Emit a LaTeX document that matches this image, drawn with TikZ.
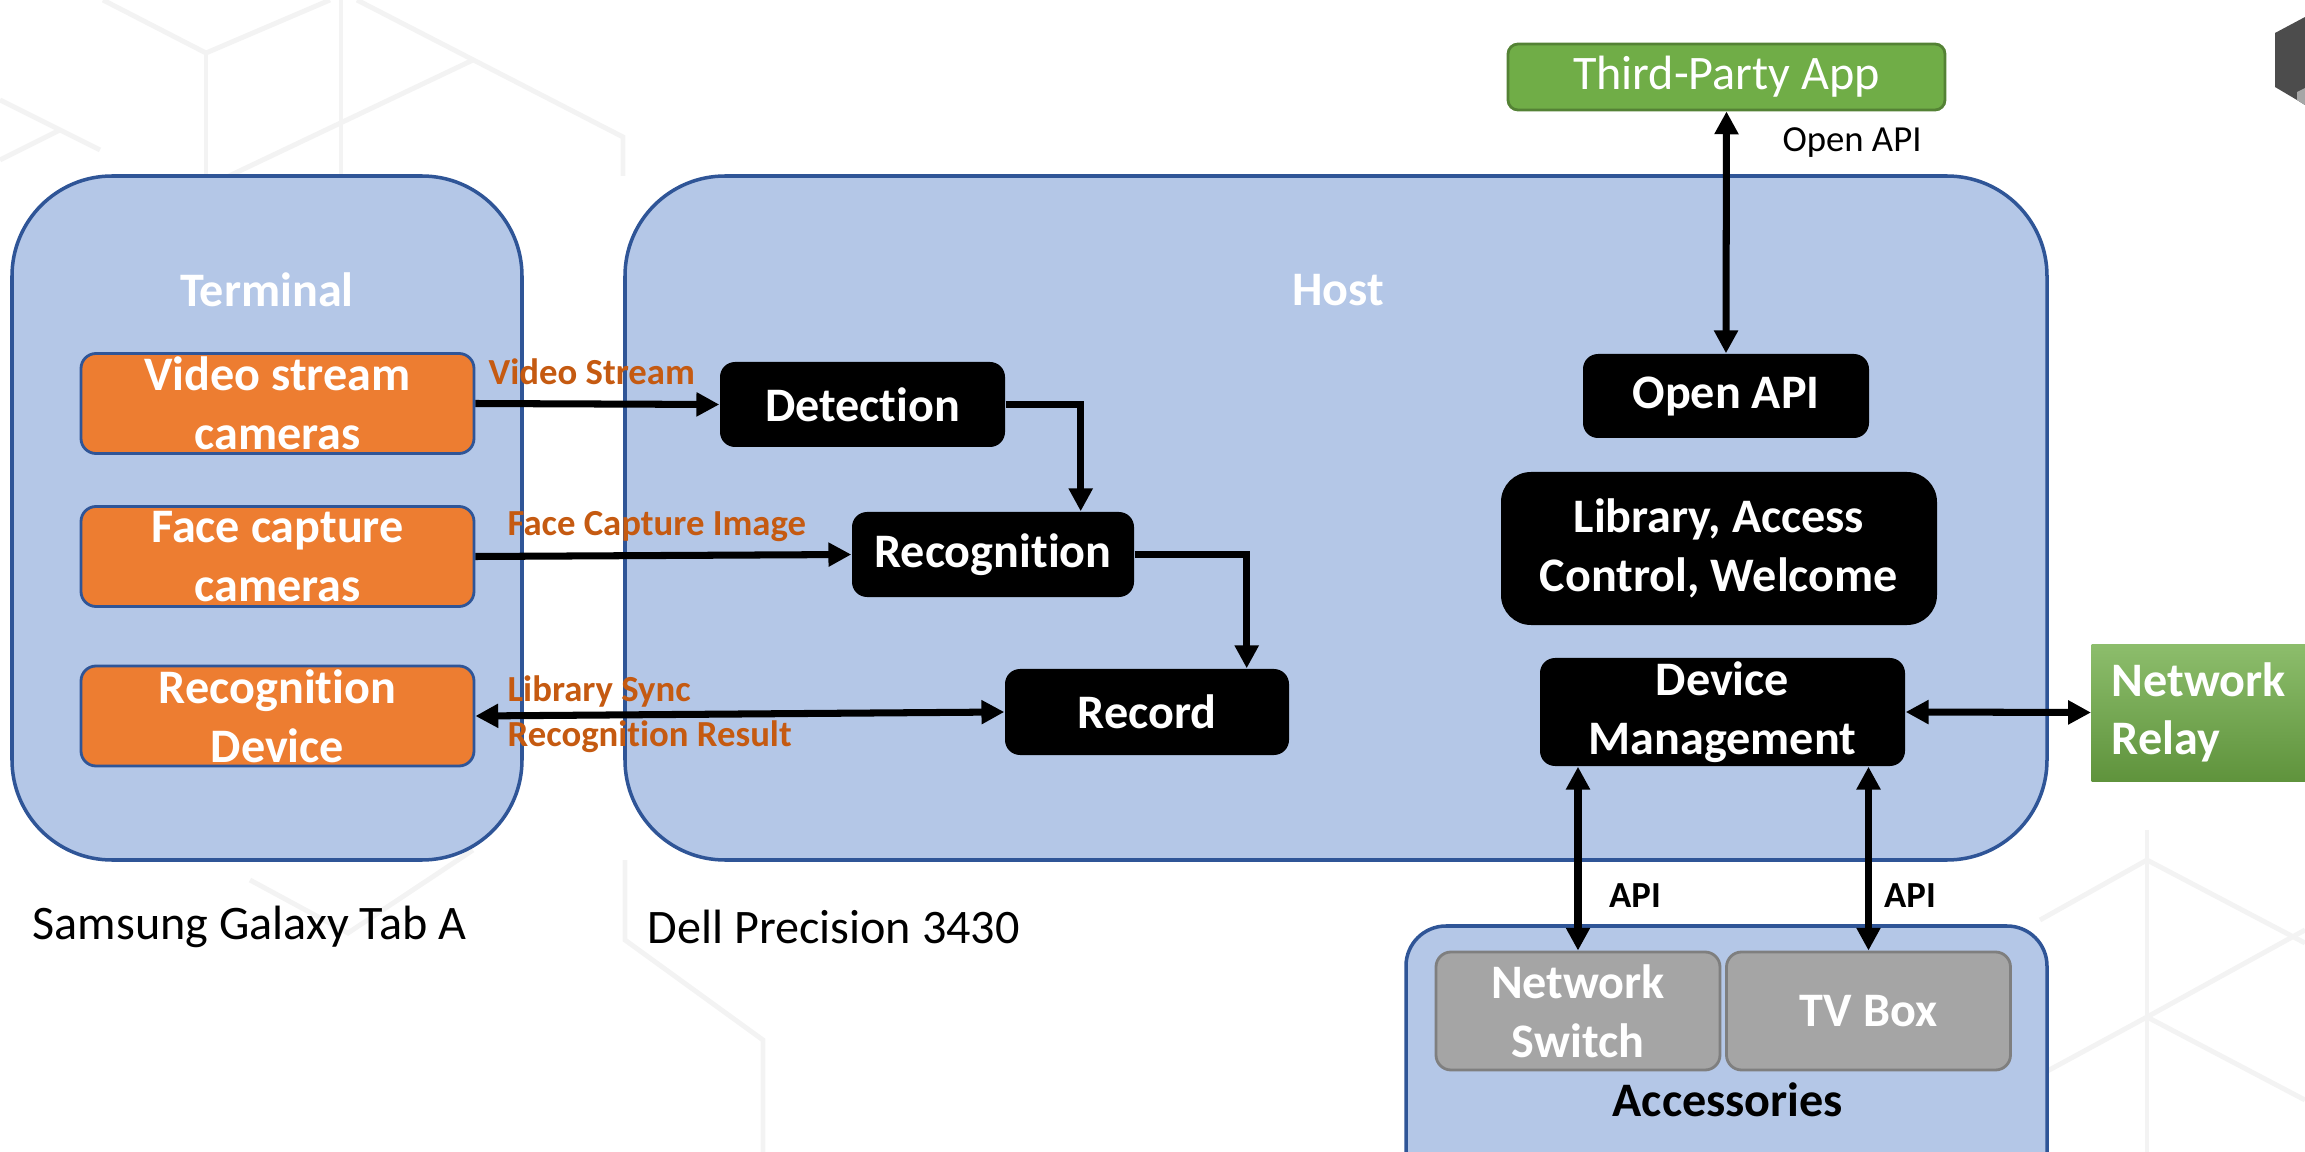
\documentclass[tikz,border=0pt]{standalone}
\usepackage{fontspec}
\setmainfont{Carlito}[Ligatures=NoCommon]
\usetikzlibrary{arrows.meta}

\definecolor{boxblue}{HTML}{B4C7E7}
\definecolor{lineblue}{HTML}{2F5597}
\definecolor{camorange}{HTML}{ED7D31}
\definecolor{labelorange}{HTML}{C55A11}
\definecolor{appgreen}{HTML}{70AD47}
\definecolor{appgreenline}{HTML}{548235}
\definecolor{accgray}{HTML}{A5A5A5}
\definecolor{accgrayline}{HTML}{7F7F7F}
\definecolor{patterngray}{HTML}{F3F3F3}

\newcommand{\bigfont}{\fontsize{13.7}{16.7}\selectfont}
\newcommand{\smallfont}{\fontsize{10.45}{12.7}\selectfont}

\begin{document}
\begin{tikzpicture}[>={Triangle[length=6.5pt,width=6.5pt]}]
        \tikzstyle{group box}=[rectangle, rounded corners=1cm, fill=boxblue, draw=lineblue, line width=1pt]
        \tikzstyle{camera}=[rectangle, rounded corners=0.15cm, fill=camorange, draw=lineblue, line width=0.8pt,
            text=white, font=\bigfont\bfseries, align=center, minimum width=3.93cm, minimum height=1cm, inner sep=0pt]
        \tikzstyle{module}=[rectangle, rounded corners=0.15cm, fill=black, text=white, font=\bigfont\bfseries,
            align=center, inner sep=0pt]
        \tikzstyle{accessory}=[rectangle, rounded corners=0.15cm, fill=accgray, draw=accgrayline, line width=0.8pt,
            text=white, font=\bigfont\bfseries, align=center, minimum width=2.84cm, minimum height=1.18cm, inner sep=0pt]
        \tikzstyle{title}=[text=white, font=\bigfont\bfseries]
        \tikzstyle{flow label}=[anchor=west, inner sep=0pt, text=labelorange, font=\smallfont\bfseries]
        \tikzstyle{api label}=[inner sep=0pt, font=\smallfont\bfseries]
        \tikzstyle{link}=[line width=2pt]

        \clip (0,0) rectangle (23.05,-11.52);

        % Faint cube lines in the background
        \begin{scope}[draw=patterngray, line width=1.4pt]
            \draw (1.03,0) -- (2.06,-0.53) -- (3.30,0);
            \draw (2.06,-0.53) -- (2.06,-1.76);
            \draw (3.41,0) -- (3.41,-1.76);
            \draw (3.57,0) -- (6.23,-1.37) -- (6.23,-1.76);
            \draw (4.73,-0.60) -- (2.29,-1.76);
            \draw (0,-1.00) -- (1.00,-1.50);
            \draw (0,-1.60) -- (0.60,-1.30);
            \draw (2.50,-8.80) -- (3.48,-9.33) -- (4.73,-8.50);
            \draw (6.25,-8.60) -- (6.25,-9.40) -- (7.63,-10.40) -- (7.63,-11.52);
            \draw (21.47,-8.30) -- (21.47,-11.52);
            \draw (20.40,-9.20) -- (21.47,-8.60) -- (23.05,-9.43);
            \draw (20.40,-10.75) -- (21.47,-10.17) -- (23.05,-9.30);
            \draw (21.47,-10.17) -- (23.05,-11.00);
        \end{scope}

        % Device picture cut by the right edge
        \fill[black!70] (22.75,-0.33) -- (23.05,-0.17) -- (23.05,-1.05) -- (22.97,-1.00) -- (22.75,-0.87) -- cycle;
        \fill[black!35] (22.97,-0.92) -- (23.05,-0.88) -- (23.05,-1.05) -- (22.97,-1.00) -- cycle;

        % Draw the three group boxes
        \node[group box, minimum width=5.10cm, minimum height=6.84cm] (terminal) at (2.67,-5.18) {};
        \node[group box, minimum width=14.22cm, minimum height=6.84cm] (host) at (13.36,-5.18) {};
        \node[group box, rounded corners=0.4cm, minimum width=6.41cm, minimum height=2.74cm] (acc) at (17.265,-10.63) {};

        \node[title] at (2.67,-2.90) {Terminal};
        \node[title] at (13.38,-2.90) {Host};

        % Draw the terminal cameras
        \node[camera] (vscam) at (2.775,-4.035) {Video stream\\cameras};
        \node[camera] (fccam) at (2.775,-5.565) {Face capture\\cameras};
        \node[camera] (recdev) at (2.775,-7.16) {Recognition\\Device};

        % Draw the host modules
        \node[module, minimum width=2.85cm, minimum height=0.85cm] (detection) at (8.625,-4.045) {Detection};
        \node[module, minimum width=2.82cm, minimum height=0.85cm] (recognition) at (9.93,-5.545) {Recognition};
        \node[module, minimum width=2.84cm, minimum height=0.86cm] (record) at (11.47,-7.12) {Record};
        \node[module, minimum width=2.86cm, minimum height=0.84cm] (openapi) at (17.26,-3.96) {Open API};
        \node[module, rounded corners=0.3cm, minimum width=4.36cm, minimum height=1.53cm] (library) at (17.19,-5.485) {Library, Access\\Control, Welcome};
        \node[module, minimum width=3.65cm, minimum height=1.08cm] (devmgmt) at (17.225,-7.12) {Device\\Management};

        % Draw the outside parts
        \node[rectangle, rounded corners=0.1cm, fill=appgreen, draw=appgreenline, line width=0.8pt, text=white,
            font=\bigfont, minimum width=4.37cm, minimum height=0.66cm, inner sep=0pt] (thirdparty) at (17.265,-0.77) {Third-Party App};
        \node[rectangle, anchor=west, top color=appgreen!80!white, bottom color=appgreen!85!black, text=white,
            font=\bigfont\bfseries, align=left, text width=2.0cm, inner xsep=0.2cm, minimum height=1.37cm] (relay) at (20.91,-7.125) {Network\\Relay};

        \node[accessory] (nswitch) at (15.78,-10.11) {Network\\Switch};
        \node[accessory] (tvbox) at (18.685,-10.11) {TV Box};
        \node[font=\bigfont\bfseries] at (17.28,-11.00) {Accessories};

        % Connect the cameras with the host
        \draw[link, ->] (vscam.east) -- (detection.west);
        \draw[link, ->] (fccam.east) -- (recognition.west);
        \draw[link, <->] (recdev.east) -- (record.west);
        \draw[link, ->] (detection.east) -| ([xshift=-0.54cm]recognition.north east);
        \draw[link, ->] (recognition.east) -| ([xshift=-0.43cm]record.north east);

        % Connect the device management and the open API
        \draw[link, <->] (openapi.north) -- (thirdparty.south);
        \draw[link, <->] (devmgmt.east) -- (relay.west);
        \draw[link, <->] (devmgmt.south -| nswitch.north) -- (nswitch.north);
        \draw[link, <->] (devmgmt.south -| tvbox.north) -- (tvbox.north);

        % Annotate the connectors
        \node[flow label] at (4.88,-3.72) {Video Stream};
        \node[flow label] at (5.07,-5.27) {Face Capture Image};
        \node[flow label] at (5.07,-6.92) {Library Sync};
        \node[flow label] at (5.07,-7.37) {Recognition Result};
        \node[inner sep=0pt, font=\smallfont] at (18.52,-1.43) {Open API};
        \node[api label] at (16.35,-8.96) {API};
        \node[api label] at (19.10,-8.96) {API};

        % Name the machines
        \node[anchor=west, inner sep=0pt, font=\bigfont] at (0.32,-9.27) {Samsung Galaxy Tab A};
        \node[anchor=west, inner sep=0pt, font=\bigfont] at (6.47,-9.27) {Dell Precision 3430};
\end{tikzpicture}
\end{document}
